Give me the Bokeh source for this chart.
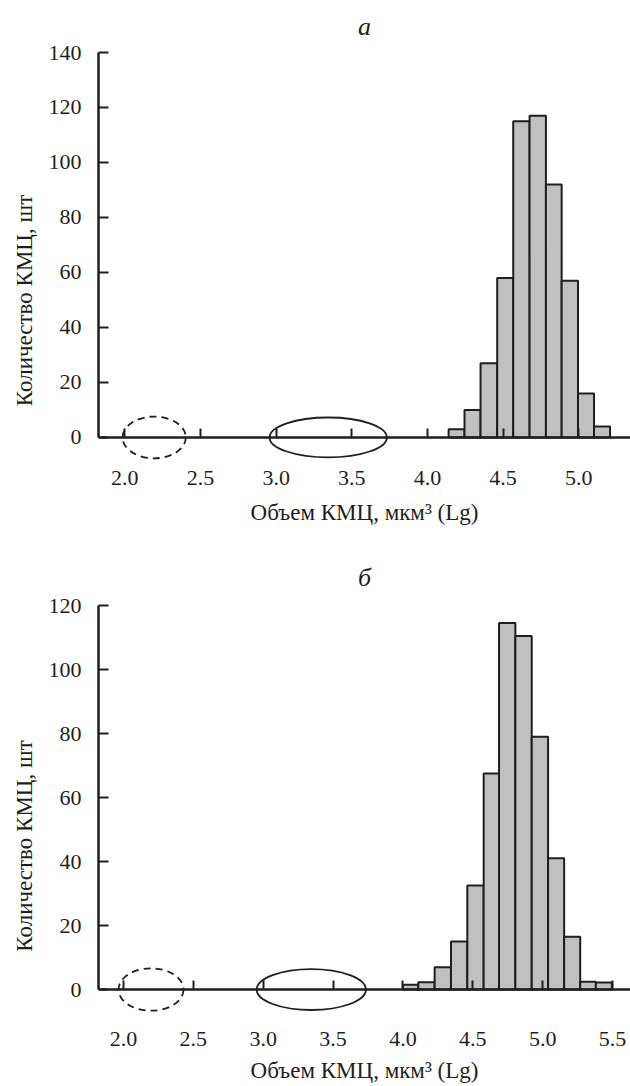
from bokeh.plotting import figure
from bokeh.models import FixedTicker, PrintfTickFormatter, Range1d
from bokeh.layouts import column
from bokeh.embed import file_html
from bokeh.resources import INLINE

# ---------------- data ----------------
# panel "а"
a_edges = [4.14, 4.245, 4.351, 4.461, 4.567, 4.675, 4.783, 4.887, 4.995, 5.101, 5.207]
a_counts = [3, 10, 27, 58, 115, 117, 92, 57, 16, 4]
a_xticks = [2.0, 2.5, 3.0, 3.5, 4.0, 4.5, 5.0]
a_yticks = [0, 20, 40, 60, 80, 100, 120, 140]
a_ell_x = [2.194, 3.344]
a_ell_w = [0.418, 0.775]
a_ell_h = [15.2, 14.5]

# panel "б"
b_edges = [4.00, 4.11, 4.227, 4.344, 4.461, 4.578, 4.688, 4.805, 4.922, 5.039,
           5.154, 5.269, 5.381, 5.496]
b_counts = [1.5, 2.3, 7, 15, 32.5, 67.5, 114.5, 110.5, 79, 41, 16.5, 2.4, 2.2]
b_xticks = [2.0, 2.5, 3.0, 3.5, 4.0, 4.5, 5.0, 5.5]
b_yticks = [0, 20, 40, 60, 80, 100, 120]
b_ell_x = [2.197, 3.344]
b_ell_w = [0.465, 0.782]
b_ell_h = [13.25, 12.8]

ell_dash = ["7 5", "solid"]

XLABEL = "Объем КМЦ, мкм³ (Lg)"
YLABEL = "Количество КМЦ, шт"
FONT = "Liberation Serif"
INK = "#1e1e1e"


def make(title, edges, counts, xticks, yticks, ell_x, ell_w, ell_h,
         xr, yr, frame_h, mtop, title_standoff, lab_standoff, axlab_standoff):
    p = figure(frame_width=532, frame_height=frame_h,
               x_range=Range1d(*xr), y_range=Range1d(*yr),
               output_backend="svg", toolbar_location=None,
               min_border_left=98, min_border_right=0,
               min_border_top=mtop, min_border_bottom=0)
    p.grid.visible = False
    p.outline_line_color = None

    p.title.text = title
    p.title.align = "center"
    p.title.vertical_align = "top"
    p.title.text_font = FONT
    p.title.text_font_style = "italic"
    p.title.text_font_size = "26px"
    p.title.text_color = INK
    p.title.standoff = title_standoff

    p.quad(left=edges[:-1], right=edges[1:], bottom=0, top=counts,
           fill_color="#c0c0c0", line_color=INK, line_width=2)

    for x, w, h, d in zip(ell_x, ell_w, ell_h, ell_dash):
        p.ellipse(x=[x], y=[0], width=[w], height=[h], fill_color=None,
                  line_color=INK, line_width=1.8, line_dash=d)

    xa = p.xaxis[0]
    xa.fixed_location = 0
    xa.ticker = FixedTicker(ticks=xticks, minor_ticks=[])
    xa.formatter = PrintfTickFormatter(format="%.1f")
    xa.major_tick_in = 9
    xa.major_tick_out = 0
    xa.minor_tick_in = 0
    xa.minor_tick_out = 0
    xa.axis_line_width = 2.5
    xa.axis_line_color = INK
    xa.major_tick_line_width = 2
    xa.major_tick_line_color = INK
    xa.major_label_standoff = lab_standoff
    xa.major_label_text_font = FONT
    xa.major_label_text_font_size = "22px"
    xa.major_label_text_color = INK
    xa.axis_label = XLABEL
    xa.axis_label_text_font = FONT
    xa.axis_label_text_font_style = "normal"
    xa.axis_label_text_font_size = "23px"
    xa.axis_label_text_color = INK
    xa.axis_label_standoff = axlab_standoff

    ya = p.yaxis[0]
    ya.bounds = (yticks[0], yticks[-1])
    ya.ticker = FixedTicker(ticks=yticks, minor_ticks=[])
    ya.major_tick_in = 10
    ya.major_tick_out = 0
    ya.minor_tick_in = 0
    ya.minor_tick_out = 0
    ya.axis_line_width = 2.5
    ya.axis_line_color = INK
    ya.major_tick_line_width = 2
    ya.major_tick_line_color = INK
    ya.major_label_standoff = 17
    ya.major_label_text_font = FONT
    ya.major_label_text_font_size = "22px"
    ya.major_label_text_color = INK
    ya.axis_label = YLABEL
    ya.axis_label_text_font = FONT
    ya.axis_label_text_font_style = "normal"
    ya.axis_label_text_font_size = "23px"
    ya.axis_label_text_color = INK
    ya.axis_label_standoff = 9
    return p


p1 = make("а", a_edges, a_counts, a_xticks, a_yticks, a_ell_x, a_ell_w, a_ell_h,
          (1.826, 5.342), (-40.4, 140), 496, 52, 19, 34, 11)
p2 = make("б", b_edges, b_counts, b_xticks, b_yticks, b_ell_x, b_ell_w, b_ell_h,
          (1.821, 5.629), (-30.3, 120), 481, 57, 23, 42, 9)

layout = column(p1, p2, spacing=0)
open("out.html", "w").write(file_html(layout, INLINE))
